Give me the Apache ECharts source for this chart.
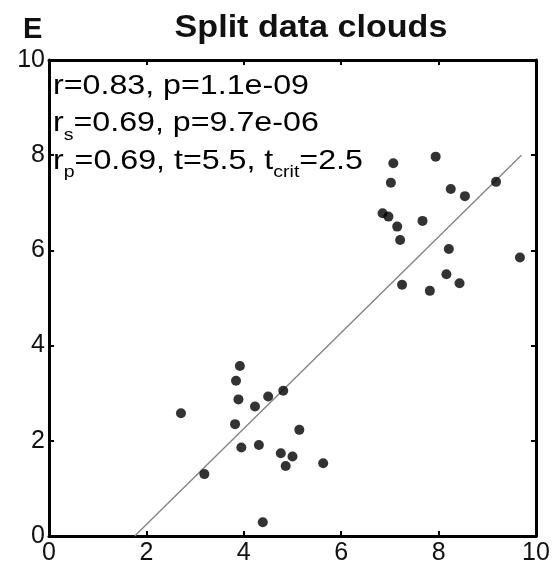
<!DOCTYPE html>
<html>
<head>
<meta charset="utf-8">
<script src="https://cdn.jsdelivr.net/npm/echarts@6/dist/echarts.min.js"></script>
<style>
  html, body { margin: 0; padding: 0; background: #fff; }
  #chart { width: 557px; height: 573px; }
</style>
</head>
<body>
<div id="chart"></div>
<script>
// Scatter of two separated point clouds with a fitted line
const cloudX = [7.07, 7.94, 7.02, 8.25, 8.54, 9.18, 6.85, 6.97, 7.15, 7.67, 7.21, 8.21, 9.67, 8.16, 8.43, 7.25, 7.82,
                3.92, 3.84, 3.89, 4.23, 4.50, 4.81, 2.71, 3.82, 5.14, 3.95, 4.31, 4.76, 5.00, 4.86, 5.63, 3.19, 4.39];
const cloudY = [7.83, 7.97, 7.42, 7.29, 7.14, 7.44, 6.78, 6.71, 6.50, 6.62, 6.22, 6.03, 5.85, 5.50, 5.31, 5.28, 5.15,
                3.57, 3.26, 2.87, 2.72, 2.93, 3.05, 2.58, 2.35, 2.23, 1.86, 1.91, 1.74, 1.67, 1.47, 1.53, 1.30, 0.29];
const fitX = [1.76, 9.70];
const fitY = [0.00, 8.00];
const tickValues = [0, 2, 4, 6, 8, 10];
const panelLetter = 'E';
const chartTitle = 'Split data clouds';
const statLines = [
  [['r=0.83, p=1.1e-09', 'm']],
  [['r', 'm'], ['s', 's'], ['=0.69, p=9.7e-06', 'm']],
  [['r', 'm'], ['p', 's'], ['=0.69, t=5.5, t', 'm'], ['crit', 's'], ['=2.5', 'm']]
];

const points = cloudX.map((x, i) => [x, cloudY[i]]);
const fitLine = fitX.map((x, i) => [x, fitY[i]]);

const FONT = '"Liberation Sans", Arial, Helvetica, sans-serif';

const richStyles = {
  m: { fontSize: 28, fontFamily: FONT, color: '#111', lineHeight: 30, verticalAlign: 'top' },
  s: { fontSize: 17, fontFamily: FONT, color: '#111', lineHeight: 18, verticalAlign: 'top', padding: [17, 0, 0, 0] }
};

const statGraphics = statLines.map((parts, i) => ({
  type: 'text',
  x: 53,
  y: 72 + i * 37.5,
  scaleX: 1.15,
  style: {
    x: 0, y: 0,
    text: parts.map(p => '{' + p[1] + '|' + p[0] + '}').join(''),
    rich: richStyles,
    verticalAlign: 'top',
    align: 'left'
  },
  z: 100
}));

const axisCommon = {
  type: 'value', min: 0, max: 10, interval: 2,
  axisLine: { show: true, onZero: false, lineStyle: { color: '#000', width: 3 } },
  axisTick: { show: true, inside: true, length: 5, lineStyle: { color: '#000', width: 2 } },
  splitLine: { show: false }
};

const tickLabel = {
  show: true, color: '#111', fontSize: 25, fontFamily: FONT,
  formatter: v => tickValues.includes(v) ? String(v) : ''
};

const chart = echarts.init(document.getElementById('chart'));
chart.setOption({
  animation: false,
  backgroundColor: '#fff',
  grid: { left: 49, right: 21, top: 60, bottom: 37 },
  xAxis: [
    Object.assign({}, axisCommon, { position: 'bottom', axisLabel: Object.assign({ margin: 5 }, tickLabel) }),
    Object.assign({}, axisCommon, { position: 'top', axisLabel: { show: false } })
  ],
  yAxis: [
    Object.assign({}, axisCommon, { position: 'left', axisLabel: Object.assign({ margin: 4 }, tickLabel) }),
    Object.assign({}, axisCommon, { position: 'right', axisLabel: { show: false } })
  ],
  graphic: [
    {
      type: 'text', x: 23, y: 15,
      style: { text: panelLetter, font: 'bold 29px ' + FONT, fill: '#111', verticalAlign: 'top' }
    },
    {
      type: 'text', x: 311, y: 13, scaleX: 1.1,
      style: { text: chartTitle, font: 'bold 31px ' + FONT, fill: '#111', align: 'center', verticalAlign: 'top' }
    }
  ].concat(statGraphics),
  series: [
    {
      type: 'line',
      data: fitLine,
      symbol: 'none',
      lineStyle: { color: '#808080', width: 1.3 },
      z: 2
    },
    {
      type: 'scatter',
      data: points,
      symbol: 'circle',
      symbolSize: 10,
      itemStyle: { color: '#000' },
      z: 3
    }
  ]
});
</script>
</body>
</html>
